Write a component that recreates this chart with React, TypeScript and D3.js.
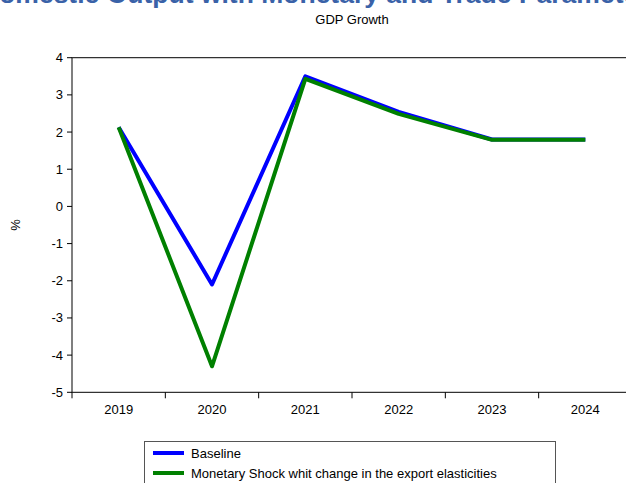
import React from "react";
import * as d3 from "d3";

const years = ["2019", "2020", "2021", "2022", "2023", "2024"];
const baseline = [2.13, -2.1, 3.5, 2.54, 1.8, 1.8];
const shock = [2.13, -4.3, 3.43, 2.49, 1.79, 1.79];
const yTicks = [4, 3, 2, 1, 0, -1, -2, -3, -4, -5];
const seriesNames = ["Baseline", "Monetary Shock whit change in the export elasticities"];
const seriesColors = ["#0000FF", "#008000"];

export default function App() {
  const W = 626, H = 483;
  const left = 72, right = 632, top = 57.7, bottom = 392.3;
  const x = d3.scaleBand<string>().domain(years).range([left, right]);
  const y = d3.scaleLinear().domain([-5, 4]).range([bottom, top]);
  const line = d3
    .line<number>()
    .x((_, i) => (x(years[i]) as number) + x.bandwidth() / 2)
    .y((d) => y(d));
  const font = "Arial, 'Liberation Sans', sans-serif";
  const series = [baseline, shock];
  return (
    <svg width={W} height={H} style={{ position: "absolute", left: 0, top: 0 }}>
      <rect x={0} y={0} width={W} height={H} fill="#fff" />
      <text x={-20} y={3} fontFamily={font} fontWeight="bold" fontSize={26.5} fill="#3A62A8">
        Domestic Output with Monetary and Trade Parameters
      </text>
      <text x={(left + right) / 2} y={24} textAnchor="middle" fontFamily={font} fontSize={13} fill="#000">
        GDP Growth
      </text>
      {/* frame */}
      <rect x={left} y={top} width={right - left} height={bottom - top} fill="none" stroke="#000" strokeWidth={1} />
      {/* y ticks */}
      {yTicks.map((t) => (
        <g key={t}>
          <line x1={left - 5} x2={left} y1={y(t)} y2={y(t)} stroke="#000" />
          <text x={left - 9} y={y(t) + 4.5} textAnchor="end" fontFamily={font} fontSize={13} fill="#000">
            {t}
          </text>
        </g>
      ))}
      {/* x ticks */}
      {years.map((yr) => (
        <g key={yr}>
          <line x1={x(yr) as number} x2={x(yr) as number} y1={bottom} y2={bottom + 6} stroke="#000" />
          <text
            x={(x(yr) as number) + x.bandwidth() / 2}
            y={bottom + 22}
            textAnchor="middle"
            fontFamily={font}
            fontSize={13}
            fill="#000"
          >
            {yr}
          </text>
        </g>
      ))}
      <text
        transform={`translate(20, ${y(-0.5)}) rotate(-90)`}
        textAnchor="middle"
        fontFamily={font}
        fontSize={13}
        fill="#000"
      >
        %
      </text>
      {series.map((s, i) => (
        <path key={i} d={line(s) || ""} fill="none" stroke={seriesColors[i]} strokeWidth={4} strokeLinejoin="round" />
      ))}
      {/* legend */}
      <rect x={144.5} y={441.5} width={411} height={50} fill="#fff" stroke="#555" strokeWidth={1} />
      {seriesNames.map((n, i) => (
        <g key={n}>
          <line x1={153} x2={184} y1={453 + i * 20} y2={453 + i * 20} stroke={seriesColors[i]} strokeWidth={4} />
          <text x={191} y={457.5 + i * 20} fontFamily={font} fontSize={13} fill="#000">
            {n}
          </text>
        </g>
      ))}
    </svg>
  );
}
